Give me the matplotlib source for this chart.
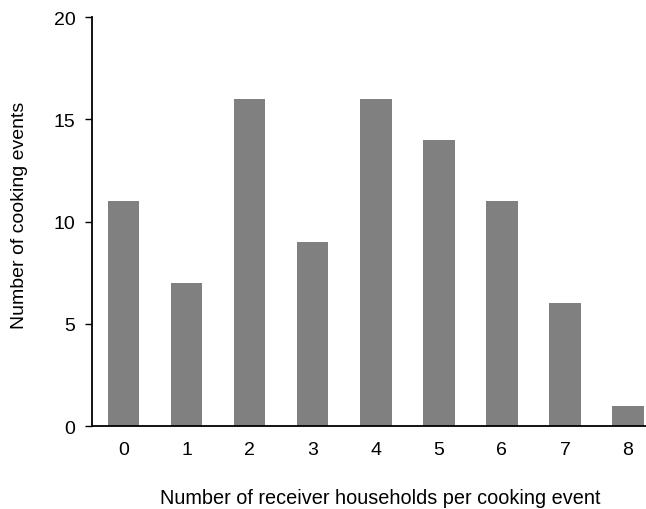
import matplotlib
matplotlib.use("Agg")
import matplotlib.pyplot as plt

# Data
receivers = [0, 1, 2, 3, 4, 5, 6, 7, 8]
events    = [11, 7, 16, 9, 16, 14, 11, 6, 1]
y_ticks   = [0, 5, 10, 15, 20]

plt.rcParams["font.family"] = ["Liberation Sans", "DejaVu Sans"]

fig = plt.figure(figsize=(6.46, 5.10), dpi=100)
ax = fig.add_axes([0.1424, 0.1627, 0.8786, 0.802])

ax.bar(receivers, events, width=0.5, color="#808080")
ax.set_xlim(-0.5, 8.5)
ax.set_ylim(0, 20)
ax.set_xticks(receivers)
ax.set_yticks(y_ticks)

for side in ("top", "right"):
    ax.spines[side].set_visible(False)
for side in ("left", "bottom"):
    ax.spines[side].set_linewidth(1.3)

ax.tick_params(axis="x", length=0, pad=11, labelsize=14)
ax.tick_params(axis="y", length=5, width=1.0, pad=7, labelsize=14)

ax.set_xlabel("Number of receiver households per cooking event", fontsize=14.3)
ax.set_ylabel("Number of cooking events", fontsize=14)
ax.xaxis.set_label_coords(0.507, -0.152)
ax.yaxis.set_label_coords(-0.112, 0.517)

fig.savefig("out.png", dpi=100)
plt.close(fig)
